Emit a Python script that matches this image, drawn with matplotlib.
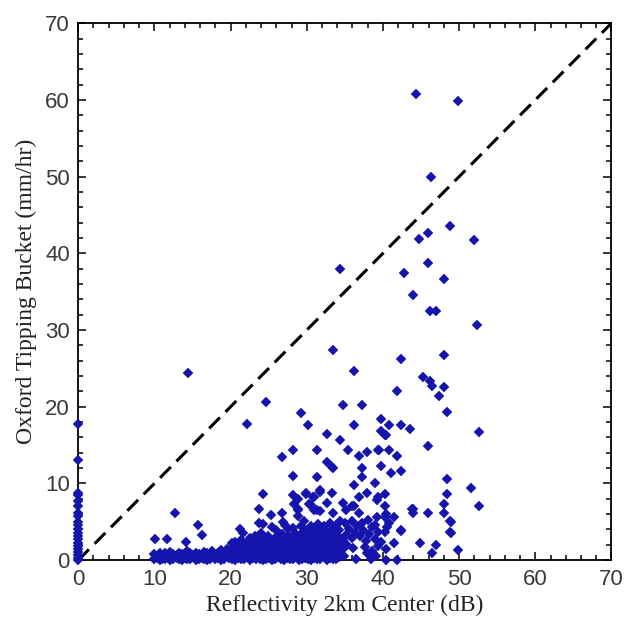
import numpy as np
import matplotlib
matplotlib.use('Agg')
import matplotlib.pyplot as plt
from matplotlib.ticker import MultipleLocator

# points sitting on x = 0 (no radar echo)
axis_y = [17.7, 13.0, 8.8, 8.5, 7.7, 7.0, 6.1, 5.7, 5.0, 4.6, 4.1, 3.5, 3.1,
          2.7, 2.3, 1.9, 1.5, 1.1, 0.7, 0.3, 0.0]

# isolated points above the dense cluster
sparse_x = [44.3, 49.8, 46.3, 48.8, 45.9, 44.8, 51.9, 45.9, 42.8, 48.0, 43.9, 46.2, 47.0, 52.4,
            34.4, 33.4, 42.4, 48.0, 36.2, 45.3, 46.2, 46.4, 48.0, 41.8, 47.4, 34.8, 37.3, 48.4,
            29.2, 39.7, 30.2, 36.2, 40.8, 42.4, 43.5, 52.6, 39.8, 40.4, 32.7, 34.3, 45.9, 31.3,
            35.4, 39.5, 40.8, 37.9, 36.9, 41.8, 32.7, 33.4, 37.3, 39.7, 42.4, 31.3, 37.3, 48.4,
            36.2, 38.9, 51.5, 48.4, 52.6, 48.0, 43.9, 43.9, 45.9, 48.0, 48.9, 48.9, 44.9, 47.0,
            46.4, 49.9, 41.4, 42.4, 40.4, 40.4, 41.8, 41.4, 22.2, 24.7, 26.7, 28.2, 14.4, 28.2,
            41.0, 29.9, 30.9, 31.8, 33.3, 36.8, 37.9, 39.2, 40.3, 40.3, 39.3, 24.3, 23.7, 25.3,
            26.7, 28.9, 28.9, 28.9, 30.5, 30.9, 31.7, 32.7, 34.8, 35.1, 36.2, 36.8, 40.4, 39.2,
            23.7, 24.3, 21.3, 21.6, 27.2, 28.2, 12.7, 15.7, 16.2, 10.1, 11.7, 14.2, 33.3, 39.3,
            40.3, 42.4, 48.8, 48.8, 40.3, 40.5, 40.8, 40.3, 43.8, 30.3, 28.3, 28.8, 31.3, 33.4,
            35.9, 31.7, 30.8, 29.9, 28.2, 36.4, 38.4]
sparse_y = [60.8, 59.8, 50.0, 43.6, 42.6, 41.9, 41.7, 38.7, 37.5, 36.6, 34.6, 32.5, 32.5, 30.6,
            37.9, 27.4, 26.2, 26.8, 24.7, 23.9, 23.4, 22.7, 22.6, 22.1, 21.4, 20.2, 20.2, 19.3,
            19.2, 18.4, 17.6, 17.6, 17.6, 17.6, 17.1, 16.7, 16.9, 16.3, 16.5, 15.7, 14.9, 14.4,
            14.4, 14.3, 14.3, 14.1, 13.6, 13.6, 12.8, 12.0, 12.0, 12.3, 11.6, 10.8, 10.8, 10.6,
            9.8, 10.0, 9.4, 8.6, 7.1, 7.3, 6.7, 6.1, 6.1, 6.1, 5.0, 3.6, 2.2, 2.0,
            1.0, 1.3, 2.2, 3.8, 1.5, 0.0, 0.0, 5.6, 17.8, 20.6, 13.5, 14.3, 24.4, 11.0,
            11.3, 8.7, 8.3, 9.1, 8.8, 8.3, 8.7, 7.9, 8.6, 7.1, 8.2, 8.6, 6.7, 5.9,
            6.1, 8.0, 6.6, 5.7, 7.2, 6.5, 6.4, 7.4, 7.5, 6.5, 7.0, 6.1, 6.0, 5.6,
            4.9, 4.7, 4.0, 3.5, 4.6, 4.2, 6.1, 4.6, 3.3, 2.8, 2.8, 2.4, 12.2, 14.3,
            16.3, 3.9, 3.7, 5.1, 3.7, 4.3, 4.8, 5.6, 6.7, 7.3, 7.3, 6.7, 6.5, 6.2,
            7.0, 8.9, 8.2, 8.6, 8.5, 0.2, 0.2]

# dense low-rate cluster, 10-20 dB
band_a_x = [10.0, 10.3, 10.7, 11.0, 11.4, 11.8, 12.1, 12.5, 12.9, 13.2, 13.6, 14.0, 14.3, 14.7,
            15.1, 15.4, 15.8, 16.2, 16.5, 16.9, 17.3, 17.6, 18.0, 18.4, 18.7, 19.1, 19.5, 19.8]
band_a_y1 = [0.1, 0.3, 0.0, 0.2, 0.1, 0.4, 0.0, 0.2, 0.3, 0.1, 0.0, 0.3, 0.2, 0.1,
             0.4, 0.0, 0.2, 0.3, 0.1, 0.0, 0.2, 0.4, 0.1, 0.3, 0.0, 0.2, 0.5, 0.3]
band_a_y2 = [0.8, 0.6, 1.0, 0.7, 0.9, 0.6, 1.1, 0.8, 0.7, 1.0, 0.8, 0.6, 1.2, 0.9,
             0.7, 1.0, 0.8, 0.6, 1.1, 0.9, 0.8, 1.2, 0.7, 1.0, 1.3, 0.9, 1.4, 1.2]

# 20-24 dB
band_b_x = [20.2, 20.6, 21.0, 21.4, 21.8, 22.2, 22.6, 23.0, 23.4, 23.8, 24.2]
band_b_y1 = [0.2, 0.0, 0.3, 0.1, 0.2, 0.4, 0.0, 0.3, 0.1, 0.2, 0.0]
band_b_y2 = [0.9, 1.0, 0.8, 1.1, 0.9, 0.7, 1.0, 0.9, 1.2, 0.8, 1.0]
band_b_y3 = [1.6, 1.5, 1.8, 1.4, 1.7, 1.9, 1.6, 1.5, 1.8, 2.0, 1.7]
band_b_y4 = [2.2, 2.4, 2.1, 2.6, 2.3, 2.0, 2.5, 2.7, 2.3, 2.5, 2.9]

# 24-30 dB
band_c_x = [24.6, 25.0, 25.4, 25.8, 26.2, 26.6, 27.0, 27.4, 27.8, 28.2, 28.6, 29.0, 29.4, 29.8]
band_c_y1 = [0.1, 0.3, 0.0, 0.2, 0.4, 0.1, 0.0, 0.3, 0.2, 0.1, 0.4, 0.0, 0.2, 0.3]
band_c_y2 = [0.9, 0.7, 1.0, 0.8, 1.1, 0.9, 0.7, 1.0, 0.8, 1.2, 0.9, 0.7, 1.1, 0.9]
band_c_y3 = [1.6, 1.8, 1.5, 1.7, 1.9, 1.6, 1.4, 1.8, 1.7, 1.5, 1.9, 1.6, 1.8, 1.7]
band_c_y4 = [2.3, 2.5, 2.2, 2.6, 2.4, 2.2, 2.7, 2.5, 2.3, 2.6, 2.4, 2.8, 2.5, 2.6]

# 30-34 dB
band_d_x = [30.2, 30.6, 31.0, 31.4, 31.8, 32.2, 32.6, 33.0, 33.4, 33.8, 34.2]
band_d_y1 = [0.2, 0.0, 0.3, 0.1, 0.2, 0.4, 0.0, 0.3, 0.1, 0.2, 0.4]
band_d_y2 = [0.9, 1.0, 0.8, 1.1, 0.7, 0.9, 1.0, 0.8, 1.2, 0.9, 1.0]
band_d_y3 = [1.6, 1.5, 1.8, 1.7, 1.5, 1.9, 1.6, 1.7, 1.5, 1.8, 1.6]
band_d_y4 = [2.3, 2.4, 2.2, 2.5, 2.3, 2.2, 2.6, 2.4, 2.3, 2.5, 2.2]
band_d_y5 = [3.0, 3.2, 2.9, 3.1, 3.3, 3.0, 3.2, 2.9, 3.1, 3.3, 3.0]
band_d_y6 = [3.8, 3.6, 4.0, 3.7, 3.9, 4.1, 3.7, 3.8, 4.0, 3.6, 3.9]

# upper edge of the cluster and the thinner part beyond 34 dB
edge_x = [24.9, 25.9, 26.8, 27.5, 28.4, 29.1, 29.6, 30.0, 30.5, 31.5, 32.3, 33.1, 33.9, 34.4,
          22.5, 23.2, 24.0, 26.0, 27.6, 29.2, 25.5, 26.9, 29.6,
          34.8, 35.2, 35.5, 35.9, 36.3, 36.6, 37.0, 37.4, 37.8, 38.2, 38.5, 38.9, 39.3, 39.7,
          35.0, 36.0, 37.2, 38.0, 39.0, 34.7, 35.3, 37.6, 38.6, 39.4, 34.9, 37.9, 39.1, 36.1]
edge_y = [3.1, 3.0, 3.4, 3.2, 3.5, 3.3, 3.7, 3.9, 4.5, 4.7, 4.4, 4.9, 4.6, 5.1,
          2.9, 3.2, 3.6, 3.9, 4.0, 4.4, 4.3, 5.0, 5.1,
          2.6, 3.3, 4.0, 2.9, 3.6, 4.4, 3.1, 3.9, 2.5, 3.4, 4.3, 2.8, 3.7, 2.4,
          4.8, 5.1, 4.9, 5.3, 4.6, 1.4, 2.0, 1.7, 1.2, 1.9, 0.5, 0.9, 0.6, 1.6]

x_all = np.concatenate([np.zeros(len(axis_y)), sparse_x,
                        band_a_x, band_a_x,
                        band_b_x * 4,
                        band_c_x * 4,
                        band_d_x * 6,
                        edge_x])
y_all = np.concatenate([axis_y, sparse_y,
                        band_a_y1, band_a_y2,
                        band_b_y1, band_b_y2, band_b_y3, band_b_y4,
                        band_c_y1, band_c_y2, band_c_y3, band_c_y4,
                        band_d_y1, band_d_y2, band_d_y3, band_d_y4, band_d_y5, band_d_y6,
                        edge_y])

fig = plt.figure(figsize=(6.31, 6.28), dpi=100)
ax = fig.add_axes([0.124, 0.108, 0.845, 0.855])

ax.axline((0, 0), slope=1, color='black', lw=2.2, dashes=(5, 2.6), zorder=1)
ax.plot(x_all, y_all, linestyle='none', marker='D', ms=5.0, color='#1515ad',
        mec='#1515ad', mew=0.3, clip_on=False, zorder=3)

ax.set_xlim(0, 70)
ax.set_ylim(0, 70)
ax.xaxis.set_major_locator(MultipleLocator(10))
ax.yaxis.set_major_locator(MultipleLocator(10))
ax.xaxis.set_minor_locator(MultipleLocator(2))
ax.yaxis.set_minor_locator(MultipleLocator(2))
ax.tick_params(which='both', direction='in', top=True, right=True, width=1.1, color='black')
ax.tick_params(which='major', length=6, labelsize=16, labelcolor='#3a3a3a', pad=6)
ax.tick_params(which='minor', length=3.5)
for lab in ax.get_xticklabels() + ax.get_yticklabels():
    lab.set_family('Liberation Sans')
for sp in ax.spines.values():
    sp.set_linewidth(1.3)

ax.set_xlabel('Reflectivity 2km Center (dB)', family='Liberation Serif', fontsize=17,
              color='#222222', labelpad=4)
ax.set_ylabel('Oxford Tipping Bucket (mm/hr)', family='Liberation Serif', fontsize=17,
              color='#222222', labelpad=6)

fig.savefig('out.png', dpi=100, facecolor='white')
